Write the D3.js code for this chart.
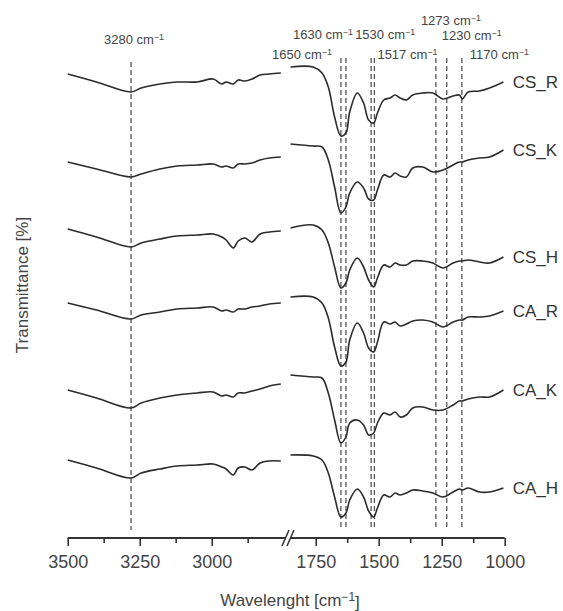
<!DOCTYPE html>
<html>
<head>
<meta charset="utf-8">
<script src="https://cdn.jsdelivr.net/npm/d3@7"></script>
<style>
  body { margin: 0; background: #fff; }
  svg text { font-family: "Liberation Sans", Arial, sans-serif; }
</style>
</head>
<body>
<script>
var svgW = 563;
var svgH = 611;

// wavenumber grid of each segment (cm-1)
var wnLeft = [3500, 3400, 3280, 3245, 3180, 3120, 3050, 2995, 2965, 2950, 2925, 2908, 2885, 2860, 2832, 2800, 2760];
var wnRight = [1850, 1760, 1725, 1700, 1675, 1650, 1630, 1615, 1585, 1560, 1540, 1520, 1505, 1480, 1455, 1435, 1415, 1390, 1365, 1325, 1285, 1245, 1205, 1180, 1168, 1145, 1100, 1060, 1005];

var samples = ["CS_R", "CS_K", "CS_H", "CA_R", "CA_K", "CA_H"];

// transmittance (offset, arbitrary units)
var csR_left = [45.6, 44.8, 43.8, 44.2, 44.6, 44.8, 44.8, 45.1, 44.6, 44.8, 44.6, 45.0, 44.9, 45.1, 45.5, 45.6, 45.7];
var csK_left = [36.8, 36.1, 35.3, 35.6, 36.1, 36.4, 36.5, 36.6, 36.3, 36.4, 36.2, 36.6, 36.6, 36.7, 37.0, 37.2, 37.3];
var csH_left = [30.1, 29.3, 28.3, 28.7, 29.1, 29.4, 29.5, 29.6, 29.3, 29.0, 28.2, 28.9, 29.2, 28.8, 29.6, 29.8, 29.9];
var caR_left = [22.7, 22.0, 21.1, 21.5, 21.8, 22.1, 22.2, 22.3, 21.9, 22.0, 21.8, 22.1, 22.1, 22.3, 22.4, 22.6, 22.7];
var caK_left = [14.0, 13.2, 12.2, 12.7, 13.2, 13.5, 13.7, 13.8, 13.4, 13.5, 13.3, 13.7, 13.7, 13.9, 14.1, 14.4, 14.6];
var caH_left = [7.0, 6.2, 5.2, 5.7, 6.1, 6.4, 6.5, 6.6, 6.3, 6.1, 5.5, 6.2, 6.3, 6.0, 6.7, 6.9, 6.9];

var csR_right = [46.3, 46.3, 45.7, 44.3, 41.3, 39.4, 39.7, 41.8, 43.7, 42.7, 41.0, 40.7, 41.7, 43.0, 43.2, 43.5, 43.2, 43.0, 43.5, 43.7, 43.7, 43.1, 43.4, 43.5, 43.1, 43.8, 43.9, 44.2, 44.8];
var csK_right = [38.6, 38.4, 38.3, 37.0, 34.3, 31.7, 32.3, 33.7, 34.8, 34.2, 33.1, 33.0, 34.0, 35.5, 35.3, 35.7, 35.4, 35.3, 36.2, 36.3, 35.8, 36.0, 36.5, 36.8, 36.8, 37.0, 37.2, 37.3, 38.0];
var csH_right = [30.2, 30.5, 30.0, 28.7, 26.3, 24.2, 24.7, 26.0, 27.2, 26.3, 25.0, 24.3, 25.2, 26.5, 26.3, 26.7, 26.5, 26.5, 26.9, 26.9, 26.7, 26.2, 26.7, 26.9, 26.9, 27.0, 26.8, 26.7, 27.3];
var caR_right = [23.3, 23.3, 22.7, 21.2, 18.3, 16.4, 16.8, 19.0, 20.7, 19.7, 18.2, 17.8, 18.8, 20.8, 20.6, 20.8, 20.4, 20.6, 20.9, 21.0, 20.8, 20.3, 20.8, 21.0, 21.0, 21.3, 21.3, 21.4, 21.9];
var caK_right = [15.5, 15.3, 15.2, 13.7, 11.0, 8.7, 9.3, 10.7, 11.0, 10.5, 9.5, 9.7, 10.7, 11.7, 11.5, 11.8, 11.3, 11.5, 12.2, 12.3, 12.0, 12.0, 12.5, 12.9, 12.9, 13.1, 13.3, 13.3, 14.0];
var caH_right = [7.5, 7.4, 7.0, 5.7, 3.3, 1.3, 1.7, 3.0, 4.1, 3.3, 1.9, 1.3, 2.2, 3.5, 3.3, 3.7, 3.5, 3.7, 4.0, 3.9, 3.7, 3.3, 3.8, 4.1, 4.0, 4.2, 3.8, 3.8, 4.2];

var leftSeries = [csR_left, csK_left, csH_left, caR_left, caK_left, caH_left];
var rightSeries = [csR_right, csK_right, csH_right, caR_right, caK_right, caH_right];

// marked bands
var peakWn = [3280, 1650, 1630, 1530, 1517, 1273, 1230, 1170];

var leftTicks = [3500, 3250, 3000];
var leftMinor = [3375, 3125, 2875];
var rightTicks = [1750, 1500, 1250, 1000];
var rightMinor = [1625, 1375, 1125];

// label placement for the band annotations
var peakLabelPos = [
  { anchor: "middle", dx: 3, y: 44 },
  { anchor: "end", dx: -9, y: 59 },
  { anchor: "end", dx: 7, y: 39 },
  { anchor: "start", dx: -16, y: 39 },
  { anchor: "start", dx: 3, y: 59 },
  { anchor: "start", dx: -15, y: 25 },
  { anchor: "start", dx: -5, y: 40 },
  { anchor: "start", dx: 8, y: 59 }
];

var axisY = 538;

var xL = d3.scaleLinear().domain([3500, 2750]).range([67.7, 283.7]);
var xR = d3.scaleLinear().domain([1850, 1000]).range([290.5, 504.7]);
var y = d3.scaleLinear().domain([0, 48]).range([530, 50]);

var svg = d3.select("body")
  .append("svg")
  .attr("width", svgW)
  .attr("height", svgH);

function xOf(w) {
  return w > 2000 ? xL(w) : xR(w);
}

// dashed guide lines
svg.selectAll("line.peak")
  .data(peakWn)
  .enter()
  .append("line")
  .attr("class", "peak")
  .attr("x1", function(d) { return xOf(d); })
  .attr("x2", function(d) { return xOf(d); })
  .attr("y1", function(d) { return d > 2000 ? 62 : 58; })
  .attr("y2", 530)
  .attr("stroke", "#555")
  .attr("stroke-width", 1.3)
  .attr("stroke-dasharray", "5,3");

function cmLabel(sel, num) {
  sel.append("tspan").text(num + " cm");
  sel.append("tspan")
    .attr("dy", "-0.45em")
    .attr("font-size", "0.68em")
    .text("\u22121");
}

svg.selectAll("text.peak")
  .data(peakWn)
  .enter()
  .append("text")
  .attr("class", "peak")
  .attr("x", function(d, i) { return xOf(d) + peakLabelPos[i].dx; })
  .attr("y", function(d, i) { return peakLabelPos[i].y; })
  .attr("text-anchor", function(d, i) { return peakLabelPos[i].anchor; })
  .attr("font-size", "13px")
  .attr("fill", "#444")
  .each(function(d) { cmLabel(d3.select(this), d); });

// spectra
var line = d3.line()
  .x(function(d) { return d[0]; })
  .y(function(d) { return d[1]; })
  .curve(d3.curveCatmullRom.alpha(0.5));

samples.forEach(function(name, k) {
  var pl = wnLeft.map(function(w, i) { return [xL(w), y(leftSeries[k][i])]; });
  var pr = wnRight.map(function(w, i) { return [xR(w), y(rightSeries[k][i])]; });

  svg.append("path")
    .attr("d", line(pl))
    .attr("fill", "none")
    .attr("stroke", "#2b2b2b")
    .attr("stroke-width", 1.6);

  svg.append("path")
    .attr("d", line(pr))
    .attr("fill", "none")
    .attr("stroke", "#2b2b2b")
    .attr("stroke-width", 1.6);

  var last = rightSeries[k][rightSeries[k].length - 1];
  svg.append("text")
    .attr("x", xR(1000) + 8)
    .attr("y", y(last))
    .attr("dy", "0.35em")
    .attr("font-size", "17px")
    .attr("fill", "#333")
    .text(name);
});

// x axis, broken
function drawAxis(scale, major, minor) {
  var g = svg.append("g").attr("transform", "translate(0," + axisY + ")");
  g.call(d3.axisBottom(scale).tickValues(major).tickSize(8).tickPadding(9).tickFormat(d3.format("d")));
  var m = svg.append("g").attr("transform", "translate(0," + axisY + ")");
  m.call(d3.axisBottom(scale).tickValues(minor).tickSize(5).tickFormat(""));
  [g, m].forEach(function(s) {
    s.select(".domain").remove();
    s.selectAll(".tick line").attr("stroke", "#333").attr("stroke-width", 1.6);
  });
  g.selectAll(".tick text")
    .attr("font-size", "18px")
    .attr("fill", "#444")
    .attr("font-family", "Liberation Sans, Arial, sans-serif");
}
drawAxis(xL, leftTicks, leftMinor);
drawAxis(xR, rightTicks, rightMinor);

svg.append("line")
  .attr("x1", xL(3500)).attr("x2", 285)
  .attr("y1", axisY).attr("y2", axisY)
  .attr("stroke", "#333").attr("stroke-width", 2);
svg.append("line")
  .attr("x1", 291).attr("x2", xR(1000))
  .attr("y1", axisY).attr("y2", axisY)
  .attr("stroke", "#333").attr("stroke-width", 2);

// break marks
[0, 5].forEach(function(off) {
  svg.append("line")
    .attr("x1", 282 + off).attr("y1", 546)
    .attr("x2", 289 + off).attr("y2", 530)
    .attr("stroke", "#333").attr("stroke-width", 1.6);
});

// axis titles
var xt = svg.append("text")
  .attr("x", 290)
  .attr("y", 606)
  .attr("text-anchor", "middle")
  .attr("font-size", "17px")
  .attr("fill", "#444");
xt.append("tspan").text("Wavelenght [cm");
xt.append("tspan").attr("dy", "-0.45em").attr("font-size", "0.7em").text("\u22121");
xt.append("tspan").attr("dy", "0.45em").text("]");

svg.append("text")
  .attr("transform", "translate(28,285) rotate(-90)")
  .attr("text-anchor", "middle")
  .attr("font-size", "17px")
  .attr("fill", "#444")
  .text("Transmittance [%]");
</script>
</body>
</html>
